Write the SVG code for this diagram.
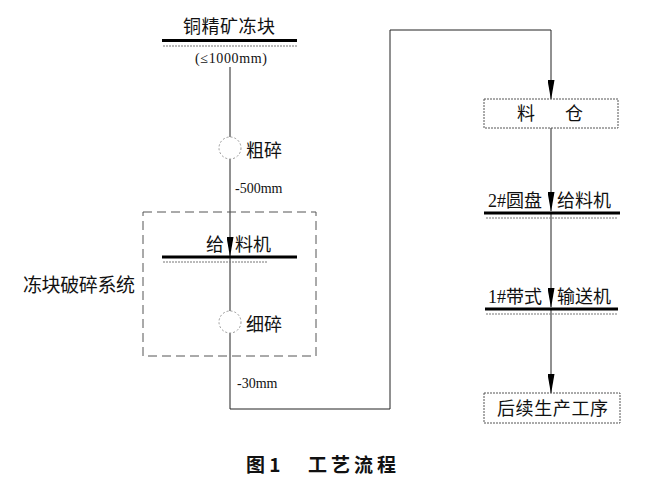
<svg xmlns="http://www.w3.org/2000/svg" width="648" height="501" viewBox="0 0 648 501">
<defs>
<style>
.t{font-family:"Liberation Serif","Noto Sans CJK SC",serif;fill:#111;}
.cn{font-size:18px;}
.sm{font-size:14px;}
.ln{stroke:#222;stroke-width:1;fill:none;}
.thick{stroke:#000;stroke-width:3;}
.dot{stroke:#777;stroke-width:1;stroke-dasharray:2 1;}
.box{fill:#fff;stroke:#555;stroke-width:1;stroke-dasharray:2 1;}
.circ{fill:#fff;stroke:#999;stroke-width:1;stroke-dasharray:2 2;}
.dash{fill:none;stroke:#555;stroke-width:1;stroke-dasharray:9 5;}
.cap{font-family:"Noto Sans CJK SC","Liberation Sans",sans-serif;font-weight:bold;font-size:19px;fill:#111;}
</style>
<marker id="arr" markerWidth="20" markerHeight="7" refX="19" refY="3.5" orient="auto" markerUnits="userSpaceOnUse" viewBox="0 0 20 7">
<path d="M0,0 L20,3.5 L0,7 Z" fill="#000"/>
</marker>
</defs>
<rect width="648" height="501" fill="#fff"/>

<g id="connectors">
<line class="ln" x1="230" y1="67" x2="230" y2="137"/>
<line class="ln" x1="230" y1="159" x2="230" y2="256" marker-end="url(#arr)"/>
<line class="ln" x1="230" y1="258" x2="230" y2="311"/>
<polyline class="ln" points="230,333 230,409 390,409 390,30 551,30 551,99" marker-end="url(#arr)"/>
<line class="ln" x1="551" y1="128" x2="551" y2="211" marker-end="url(#arr)"/>
<line class="ln" x1="551" y1="213" x2="551" y2="307" marker-end="url(#arr)"/>
<line class="ln" x1="551" y1="309" x2="551" y2="393" marker-end="url(#arr)"/>
</g>

<g id="system-box">
<rect class="dash" x="143" y="212" width="173" height="144"/>
<text class="t" x="23" y="292" font-size="19" textLength="112">冻块破碎系统</text>
</g>

<g id="node-ore">
<text class="t cn" x="183" y="33" textLength="92">铜精矿冻块</text>
<line class="thick" x1="162" y1="40.5" x2="297" y2="40.5"/>
<line class="dot" x1="163" y1="46" x2="297" y2="46"/>
<text class="t" x="195" y="63" font-size="14" textLength="72">(≤1000mm)</text>
</g>

<g id="node-coarse">
<circle class="circ" cx="230" cy="148" r="11"/>
<text class="t cn" x="246" y="157">粗碎</text>
<text class="t sm" x="235" y="193">-500mm</text>
</g>

<g id="node-feeder">
<text class="t cn" x="206" y="251">给</text>
<text class="t cn" x="235" y="251">料机</text>
<line class="thick" x1="162" y1="257" x2="297" y2="257"/>
<line class="dot" x1="163" y1="262" x2="268" y2="262"/>
</g>

<g id="node-fine">
<circle class="circ" cx="230" cy="322" r="11"/>
<text class="t cn" x="246" y="331">细碎</text>
<text class="t sm" x="237" y="388">-30mm</text>
</g>

<g id="node-bin">
<rect class="box" x="484" y="99" width="134" height="29"/>
<text class="t cn" x="517" y="120">料</text>
<text class="t cn" x="565" y="120">仓</text>
</g>

<g id="node-disc-feeder">
<text class="t cn" x="488" y="207">2#圆盘</text>
<text class="t cn" x="557" y="207">给料机</text>
<line class="thick" x1="484" y1="213" x2="620" y2="213"/>
<line class="dot" x1="486" y1="218" x2="618" y2="218"/>
</g>

<g id="node-belt">
<text class="t cn" x="488" y="303">1#带式</text>
<text class="t cn" x="557" y="303">输送机</text>
<line class="thick" x1="485" y1="309" x2="618" y2="309"/>
<line class="dot" x1="486" y1="314" x2="618" y2="314"/>
</g>

<g id="node-next">
<rect class="box" x="484" y="393" width="136" height="30"/>
<text class="t cn" x="497" y="415" textLength="111">后续生产工序</text>
</g>

<g id="caption">
<text class="cap" x="246" y="472">图 1</text>
<text class="cap" x="308" y="472" letter-spacing="4">工艺流程</text>
</g>
</svg>
